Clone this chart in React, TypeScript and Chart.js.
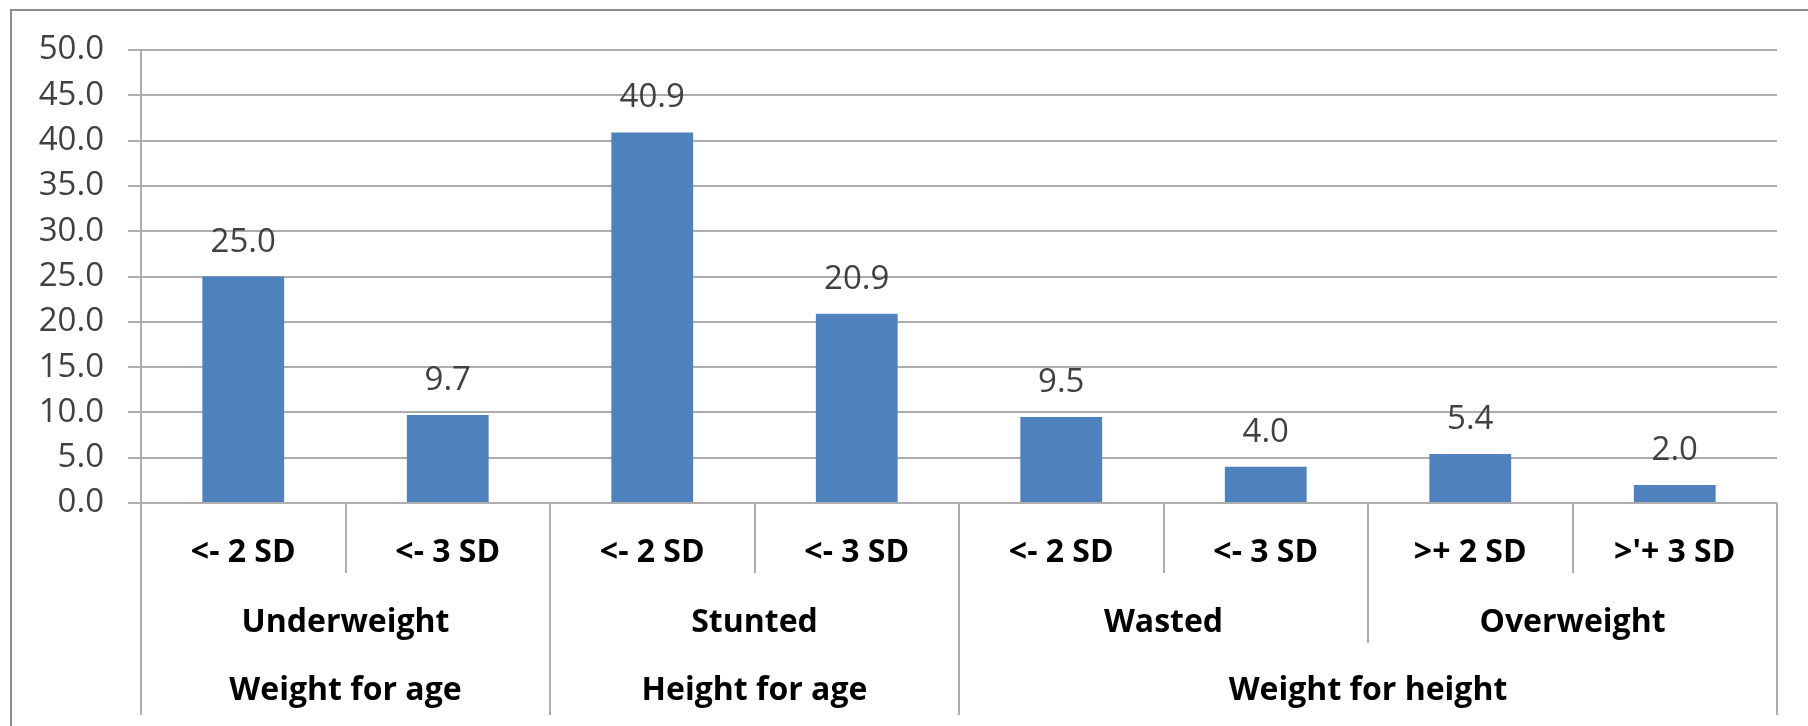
import React, { useEffect, useRef } from "react";
import { Chart, registerables } from "chart.js";

Chart.register(...registerables);

// Prevalence (%) by indicator, group and cut-off
const cutoffs = ["<- 2 SD", "<- 3 SD", "<- 2 SD", "<- 3 SD", "<- 2 SD", "<- 3 SD", ">+ 2 SD", ">'+ 3 SD"];
const groups = ["Underweight", "Underweight", "Stunted", "Stunted", "Wasted", "Wasted", "Overweight", "Overweight"];
const indicators = [
  "Weight for age", "Weight for age",
  "Height for age", "Height for age",
  "Weight for height", "Weight for height", "Weight for height", "Weight for height",
];
const values = [25.0, 9.7, 40.9, 20.9, 9.5, 4.0, 5.4, 2.0];

const yMin = 0;
const yMax = 50;
const yStep = 5;

const W = 1808;
const H = 726;
const FONT = "'Open Sans', 'Liberation Sans', sans-serif";
const LINE = "#adadad";

// Draws the value labels above the bars
const valueLabels = {
  id: "valueLabels",
  afterDatasetsDraw(chart: any) {
    const ctx = chart.ctx;
    const meta = chart.getDatasetMeta(0);
    ctx.save();
    ctx.font = `33px ${FONT}`;
    ctx.fillStyle = "#404040";
    ctx.textAlign = "center";
    ctx.textBaseline = "alphabetic";
    meta.data.forEach((bar: any, i: number) => {
      ctx.fillText(values[i].toFixed(1), bar.x, bar.y - 25);
    });
    ctx.restore();
  },
};

// Draws the three-level category table under the plot and the outer frame
const groupedAxis = {
  id: "groupedAxis",
  afterDraw(chart: any) {
    const ctx = chart.ctx;
    const x = chart.scales.x;
    const area = chart.chartArea;
    const n = cutoffs.length;
    const step = x.getPixelForValue(1) - x.getPixelForValue(0);
    const edge = (k: number) => x.getPixelForValue(0) - step / 2 + k * step;
    const base = area.bottom;
    const depth = [base + 70, base + 140, base + 212];
    const textY = [base + 59, base + 129, base + 197];

    ctx.save();
    ctx.strokeStyle = LINE;
    ctx.lineWidth = 2;
    for (let k = 0; k <= n; k++) {
      let d = depth[0];
      if (k === 0 || k === n || indicators[k] !== indicators[k - 1]) d = depth[2];
      else if (groups[k] !== groups[k - 1]) d = depth[1];
      const px = Math.round(edge(k));
      ctx.beginPath();
      ctx.moveTo(px, k === 0 ? area.top : base);
      ctx.lineTo(px, d);
      ctx.stroke();
    }

    ctx.fillStyle = "#000000";
    ctx.textAlign = "center";
    ctx.textBaseline = "alphabetic";
    ctx.font = `bold 32px ${FONT}`;
    const levels = [cutoffs, groups, indicators];
    levels.forEach((labels, li) => {
      let start = 0;
      for (let i = 1; i <= n; i++) {
        if (li === 0 || i === n || labels[i] !== labels[start]) {
          const cx = (edge(start) + edge(i)) / 2;
          ctx.fillText(labels[start], cx, textY[li]);
          start = i;
        }
      }
    });

    // outer frame
    ctx.strokeStyle = "#8c8c8c";
    ctx.lineWidth = 2;
    ctx.beginPath();
    ctx.moveTo(11, H);
    ctx.lineTo(11, 10);
    ctx.lineTo(W, 10);
    ctx.stroke();
    ctx.restore();
  },
};

export default function App() {
  const canvasRef = useRef<HTMLCanvasElement | null>(null);

  useEffect(() => {
    if (!canvasRef.current) return;
    const chart = new Chart(canvasRef.current, {
      type: "bar",
      data: {
        labels: cutoffs,
        datasets: [
          {
            data: values,
            backgroundColor: "#4F81BD",
            borderWidth: 0,
            barPercentage: 0.4,
            categoryPercentage: 1.0,
          },
        ],
      },
      options: {
        responsive: false,
        animation: false,
        devicePixelRatio: 1,
        layout: { padding: { top: 50, right: 31, left: 0, bottom: 0 } },
        plugins: {
          legend: { display: false },
          tooltip: { enabled: false },
        },
        scales: {
          x: {
            ticks: { display: false },
            grid: { display: false },
            border: { display: false },
            afterFit: (scale: any) => {
              scale.height = H - 503;
            },
          },
          y: {
            min: yMin,
            max: yMax,
            ticks: {
              stepSize: yStep,
              padding: 24,
              color: "#404040",
              font: { family: FONT, size: 33 },
              callback: (v: any) => Number(v).toFixed(1),
            },
            grid: {
              color: LINE,
              lineWidth: 2,
              tickLength: 13,
              drawTicks: true,
            },
            border: { display: false },
            afterFit: (scale: any) => {
              scale.width = 141;
            },
          },
        },
      },
      plugins: [valueLabels, groupedAxis],
    });
    return () => chart.destroy();
  }, []);

  return (
    <div style={{ position: "absolute", left: 0, top: 0, width: W, height: H, background: "#ffffff" }}>
      <canvas ref={canvasRef} width={W} height={H} style={{ display: "block", width: W, height: H }} />
    </div>
  );
}
